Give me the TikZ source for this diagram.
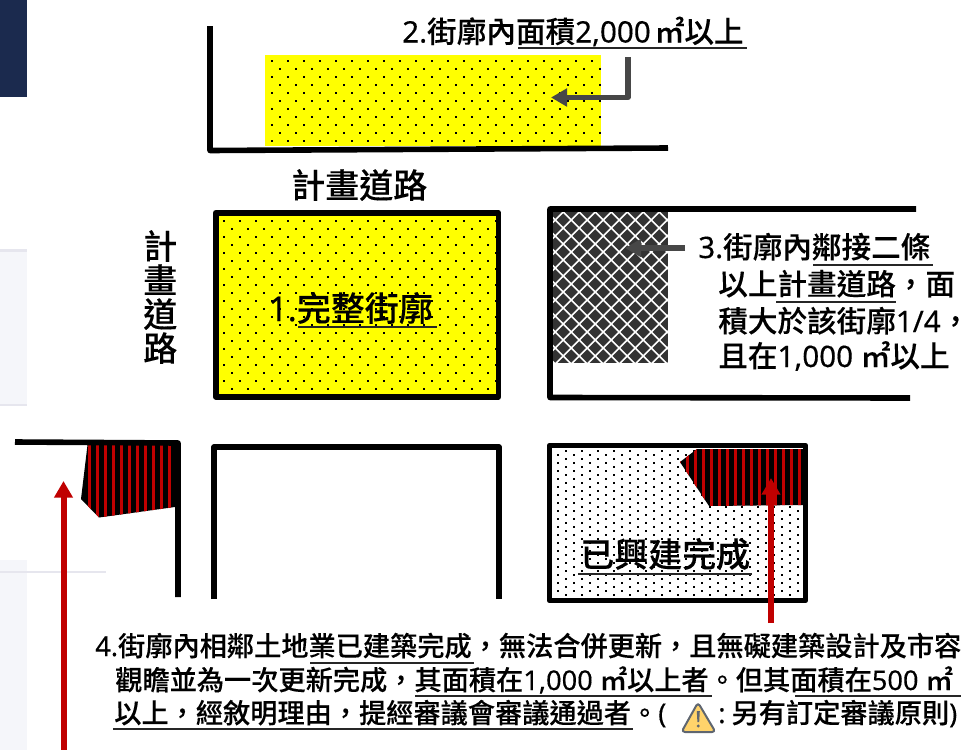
\documentclass[tikz,border=0pt]{standalone}
\usepackage{fontspec}
\setmainfont{Noto Sans CJK TC Medium}[Script=CJK,Language=Chinese Traditional,FakeBold=0.15]
\newfontfamily\latf{Noto Sans}[FakeBold=0.35]
\newcommand{\lt}[1]{{\latf #1}}
\usetikzlibrary{arrows.meta}
\definecolor{navy}{HTML}{1B2A4E}
\definecolor{panel}{HTML}{F5F6FA}
\definecolor{panelline}{HTML}{E6E6EE}
\definecolor{redc}{HTML}{C00000}
\definecolor{dgray}{HTML}{333333}
\definecolor{warn}{HTML}{FFD36B}
\definecolor{warnb}{HTML}{5F6670}
\definecolor{purey}{RGB}{255,255,0}
\newcommand{\dotbase}{0}
\newcommand{\dotx}{216}
\newcommand{\dotstep}{8}
\newcommand{\dotfield}[4]{% x0,y0,x1,y1: staggered dots, one dashed line per row
  \begin{scope}
    \clip (#1,#2) rectangle (#3,#4);
    \pgfmathtruncatemacro{\rfirst}{(#2-\dotbase)/\dotstep}
    \pgfmathtruncatemacro{\rlast}{(#4-\dotbase)/\dotstep+1}
    \foreach \r in {\rfirst,...,\rlast}{
      \pgfmathsetmacro{\px}{\dotx+8*mod(\r,2)-1}
      \pgfmathsetmacro{\py}{\dotbase+\dotstep*\r}
      \draw[black,line width=1.5pt,dash pattern=on 1.5pt off 10.5pt] (\px,\py) -- (#3,\py);
    }
  \end{scope}}
\tikzset{
  road/.style={line width=4.2pt,line join=round,black},
  lab/.style={inner sep=0pt,anchor=base west,text=black},
  lbl/.style={lab,font=\fontsize{22.2pt}{26pt}\selectfont},
  lbs/.style={lab,font=\fontsize{20.4pt}{24pt}\selectfont},
  big/.style={lab,font=\fontsize{25.5pt}{30pt}\selectfont},
  uline/.style={line width=1.5pt,black!85},
  redarrow/.style={redc,line width=4.5pt,-{Triangle[length=12.5pt,width=13.5pt]}},
  grayarrow/.style={dgray!90!white,line width=4pt,line join=round,-{Triangle[length=12pt,width=13pt]}},
}
\begin{document}
\begin{tikzpicture}[x=0.75pt,y=-0.75pt]
\useasboundingbox (0,0) rectangle (961,750);
% page chrome
\fill[navy] (0,0) rectangle (27,97);
\fill[panel] (0,250) rectangle (27,405);
\fill[panelline] (0,249) rectangle (27,251.5);
\fill[panelline] (0,404) rectangle (27,406);
\fill[panel] (0,560) rectangle (27,750);
\fill[panelline] (0,571) rectangle (106,573);

% top yellow block
\fill[purey] (265,55) rectangle (601,146);
\renewcommand{\dotbase}{5}
\dotfield{265}{55}{601}{146}
\coordinate (tlTop) at (210,26);
\coordinate (tlCorner) at (210,150.5);
\coordinate (tlEnd) at (668,148);
\draw[road] (tlTop) -- (tlCorner) -- (tlEnd);

% box 1
\fill[purey] (214,211) rectangle (499,397);
\dotfield{214}{211}{499}{397}
\draw[road] (215.7,212.7) rectangle (498.5,396.7);

% box 3
\fill[dgray] (553,211) rectangle (668,363);
\begin{scope}
  \clip (553,211) rectangle (668,363);
  \foreach \k in {-12,...,22}{
    \draw[white,line width=1.15pt] ({556.3+16*\k},205) -- ++(170,170);
    \draw[white,line width=1.15pt] ({570.3+16*\k},205) -- ++(-170,170);
  }
\end{scope}
\coordinate (b3a) at (916,209);
\coordinate (b3b) at (550,209);
\coordinate (b3c) at (550,397.5);
\coordinate (b3d) at (910,398);
\draw[road] (b3a) -- (b3b) -- (b3c) -- (b3d);

% left red block
\begin{scope}
  \clip (87.5,445) -- (81,499) -- (99,517.5) -- (175,507) -- (175,445) -- cycle;
  \fill[black] (70,440) rectangle (180,520);
  \foreach \i in {0,...,10}{
    \fill[redc] ({87.5+8*\i},440) rectangle ({91.3+8*\i},520);
  }
\end{scope}
\coordinate (lA) at (15,442);
\coordinate (lB) at (178,443);
\coordinate (lC) at (178,597);
\draw[road] (lA) -- (lB) -- (lC);

% middle open box
\coordinate (mA) at (214,599);
\coordinate (mB) at (214,447);
\coordinate (mC) at (499,447);
\coordinate (mD) at (499,599);
\draw[road] (mA) -- (mB) -- (mC) -- (mD);

% right box
\renewcommand{\dotbase}{3}
\renewcommand{\dotx}{214}
\renewcommand{\dotstep}{4}
\dotfield{549}{446}{805}{600}
\begin{scope}
  \clip (697,449) -- (680,462) -- (709,506) -- (803,505) -- (803,449) -- cycle;
  \fill[black] (675,445) rectangle (806,510);
  \foreach \i in {0,...,16}{
    \fill[redc] ({677.5+8*\i},445) rectangle ({681.3+8*\i},510);
  }
\end{scope}
\draw[road] (549.5,445.5) rectangle (805.5,600.5);

% labels
\node[lbl] (t2) at (402,42.5) {\lt{2.}街廓內面積\lt{2,000\hspace{3pt}}㎡以上};
\draw[uline] (518,48) -- (747,48);
\node[big] (t0h) at (291,198) {計畫道路};
\node[big] (v1) at (143,259) {計};
\node[big] (v2) at (143,293) {畫};
\node[big] (v3) at (143,327) {道};
\node[big] (v4) at (143,361) {路};
\node[big] (t1) at (268,321) {\lt{1.}完整街廓};
\draw[uline] (298,326.5) -- (437,326.5);
\node[lbl] (t3a) at (698,258) {\lt{3.}街廓內鄰接二條};
\draw[uline] (813,265) -- (933,265);
\node[lbl] (t3b) at (718,295) {以上計畫道路，面};
\draw[uline] (776,302) -- (896,302);
\node[lbl] (t3c) at (718,332) {積大於該街廓\lt{1/4}\makebox[0.3em][l]{，}};
\node[lbl] (t3d) at (718,367) {且在\lt{1,000 }㎡以上};
\node[big] (tb) at (580,567) {已興建完成};
\draw[uline] (578,573.5) -- (752,573.5);
\node[lbs] (t4a) at (95,656) {\lt{4.}街廓內相鄰土地業已建築完成，無法合併更新，且無礙建築設計及市容};
\draw[uline] (310,662.5) -- (474,662.5);
\node[lbs] (t4b) at (115,690) {觀瞻並為一次更新完成，其面積在\lt{1,000 }㎡以上者。但其面積在\lt{500 }㎡};
\draw[uline] (415,695.5) -- (712,695.5);
\draw[uline] (795,695.5) -- (961,695.5);
\node[lbs] (t4c) at (114,723) {以上，經敘明理由，提經審議會審議通過者。\lt{(}};
\draw[uline] (113,728.5) -- (633,728.5);
\node[lbs] (t4d) at (718,723) {\lt{:}\hspace{4.5pt}另有訂定審議原則\lt{)}};
% warning icon
\draw[warnb,fill=warn,line width=1.5pt,line join=round,rounded corners=2.5pt] (698,702.5) -- (715.5,732) -- (681.5,732) -- cycle;
\fill[warnb] (696.8,711) -- (699.8,711) -- (699.2,722) -- (697.4,722) -- cycle;
\fill[warnb] (698.3,726) circle (1.6);

% connectors
\coordinate (a2s) at (628,57);
\coordinate (a2c) at (628,97.5);
\coordinate (a2e) at (551,97.5);
\draw[grayarrow] (a2s) -- (a2c) -- (a2e);
\coordinate (a3s) at (685,248);
\coordinate (a3e) at (625,248);
\draw[grayarrow] (a3s) -- (a3e);
\coordinate (a4s) at (63.5,750);
\coordinate (a4e) at (63.5,481);
\draw[redarrow] (a4s) -- (a4e);
\coordinate (a5s) at (771,623);
\coordinate (a5e) at (771,478);
\draw[redarrow] (a5s) -- (a5e);
\end{tikzpicture}
\end{document}
